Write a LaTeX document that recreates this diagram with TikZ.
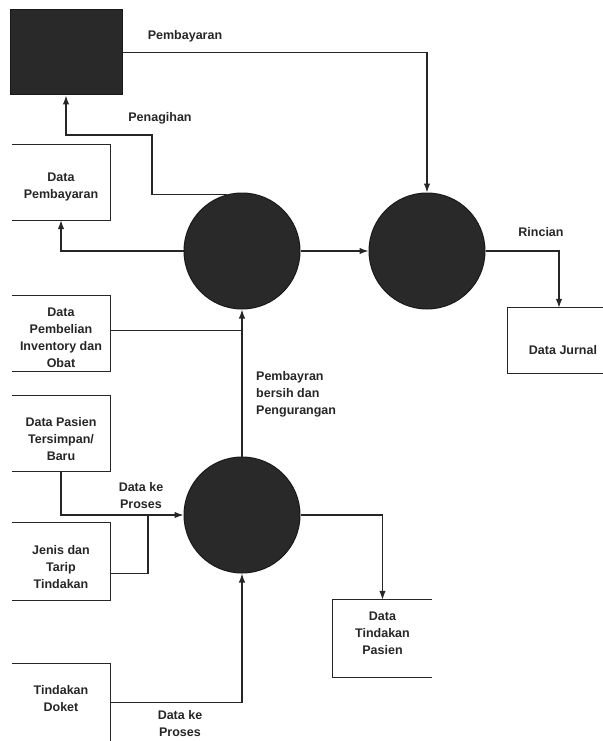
\documentclass[tikz,border=0pt]{standalone}
\usepackage{fontspec}
\setmainfont{Liberation Sans}
\usetikzlibrary{arrows.meta}
\begin{document}
\begin{tikzpicture}[x=1pt,y=-1pt,
  every node/.style={font=\bfseries\fontsize{12.5}{17}\selectfont, text=black!85, inner sep=0pt, align=center},
  store/.style={minimum width=98pt, minimum height=75pt},
  proc/.style={circle, fill=black!84, draw=black!90, line width=1pt, minimum size=116pt},
  ent/.style={rectangle, fill=black!84, draw=black!90, line width=1pt, minimum width=112pt, minimum height=85pt},
  ln/.style={line width=1.25pt, draw=black!85},
  arr/.style={ln, -{Latex[length=9pt,width=6.5pt]}},
  lbl/.style={}]
\useasboundingbox (0,0) rectangle (602,741);

% entity and processes
\node[ent] (top) at (66,52.5) {};
\node[proc] (c1) at (242,251) {};
\node[proc] (c2) at (427,251) {};
\node[proc] (c3) at (242,515) {};

% data stores (frames)
\node[store] (dp) at (61,182.5) {};
\node[store] (pb) at (61,333.5) {};
\node[store] (dps) at (61,433.5) {};
\node[store, minimum height=77pt] (jt) at (61,561.5) {};
\node[store, minimum height=77pt] (td) at (61,702.5) {};
\node[store, minimum width=102pt, minimum height=65pt] (dj) at (559,340.5) {};
\node[store, minimum width=99pt, minimum height=77pt] (dtp) at (382.5,638.5) {};

% data store texts
\node (dpt) at (61,187) {Data\\Pembayaran};
\node (pbt) at (61,337.5) {Data\\Pembelian\\Inventory dan\\Obat};
\node (dpst) at (61,439) {Data Pasien\\Tersimpan/\\Baru};
\node (jtt) at (61,567.5) {Jenis dan\\Tarip\\Tindakan};
\node (tdt) at (61,698.5) {Tindakan\\Doket};
\node (djt) at (563,350) {Data Jurnal};
\node (dtpt) at (382.5,633) {Data\\Tindakan\\Pasien};

\draw[ln] (dp.north west) -- (dp.north east) -- (dp.south east) -- (dp.south west);
\draw[ln] (pb.north west) -- (pb.north east) -- (pb.south east) -- (pb.south west);
\draw[ln] (dps.north west) -- (dps.north east) -- (dps.south east) -- (dps.south west);
\draw[ln] (jt.north west) -- (jt.north east) -- (jt.south east) -- (jt.south west);
\draw[ln] (td.north west) -- (td.north east) -- (td.south east);
\draw[ln] (dj.north east) -- (dj.north west) -- (dj.south west) -- (dj.south east);
\draw[ln] (dtp.north east) -- (dtp.north west) -- (dtp.south west) -- (dtp.south east);

% connectors
\draw[arr] (top.east) -| (c2.north);
\draw[arr] (c1.105) -| (152,135) -| (top.south);
\draw[arr] (c1.west) -| (dp.south);
\draw[arr] (c1.east) -- (c2.west);
\draw[arr] (c2.east) -| (dj.north);
\draw[ln] ([yshift=3pt]pb.east) -- ([yshift=3pt]pb.east -| c1.south);
\draw[arr] (c3.north) -- (c1.south);
\draw[arr] (dps.south) |- (c3.west);
\draw[ln] ([yshift=-12pt]jt.east) -| (148,515);
\draw[arr] (c3.east) -| (dtp.north);
\draw[arr] (td.east) -| (c3.south);

% labels
\node[lbl] (l1) at (185,36) {Pembayaran};
\node[lbl] (l2) at (160,118) {Penagihan};
\node[lbl] (l3) at (541,232) {Rincian};
\node[lbl, anchor=west, align=left] (l4) at (256,394) {Pembayran\\bersih dan\\Pengurangan};
\node[lbl] (l5) at (141,496) {Data ke\\Proses};
\node[lbl] (l6) at (180,724) {Data ke\\Proses};
\end{tikzpicture}
\end{document}
